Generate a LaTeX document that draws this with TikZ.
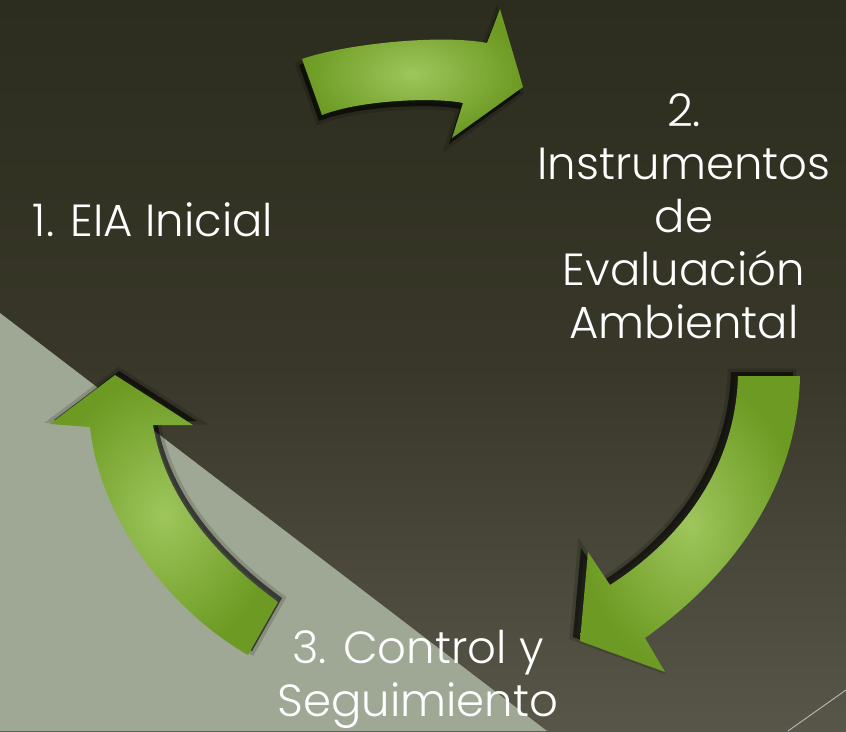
\documentclass[tikz,border=0pt]{standalone}
\usepackage{fontspec}
\setmainfont{Poppins}[UprightFont=* Light]
\definecolor{fondhaut}{RGB}{44,45,30}
\definecolor{fondmilieu}{RGB}{56,55,41}
\definecolor{fondbas}{RGB}{87,86,72}
\definecolor{gristriangle}{RGB}{159,167,149}
\definecolor{vertclair}{RGB}{158,198,92}
\definecolor{vertfonce}{RGB}{108,154,34}
\tikzstyle{etiquette}=[text=white,inner sep=0pt,align=center,font=\fontsize{45}{53}\selectfont]
\tikzstyle{fleche}=[inner color=vertclair,outer color=vertfonce]
\tikzset{ombre/.style 2 args={
  preaction={fill=black,fill opacity=.25,draw=black,draw opacity=.15,line width=7pt,transform canvas={xshift=#1,yshift=#2}},
  preaction={fill=black,fill opacity=.45,transform canvas={xshift=#1,yshift=#2}}}}

\begin{document}
\begin{tikzpicture}[x=1pt,y=-1pt]
\useasboundingbox (0,0) rectangle (846,731);

% fond
\fill[top color=fondhaut,bottom color=fondbas,middle color=fondmilieu] (0,0) rectangle (846,731);
\fill[gristriangle] (0,313) -- (547,731) -- (0,731) -- cycle;
\draw[gray!60,line width=1pt] (788,731) -- (846,690);

% fleches
\shade[fleche,ombre={-3pt}{-6pt}] (302,59) .. controls (345,44) and (440,34) .. (487,43)
  -- (500,9) -- (523,87) -- (452,138) -- (463,103)
  .. controls (435,97) and (360,100) .. (322,115) -- cycle;
\shade[fleche,ombre={-7pt}{4pt}] (738,376) -- (800,376)
  .. controls (798,480) and (740,570) .. (645,638)
  -- (665,672) -- (580,641) -- (588,552) -- (610,585)
  .. controls (680,540) and (735,470) .. (738,376) -- cycle;
\shade[fleche,ombre={4pt}{4pt}] (115,375) -- (193,425) -- (153,425)
  .. controls (165,500) and (220,560) .. (278,602) -- (248,655)
  .. controls (170,610) and (100,520) .. (90,427) -- (50,424) -- cycle;

% textes
\node[etiquette,anchor=base] (eia) at (153,236) {1. EIA Inicial};
\node[etiquette,anchor=north] (instr) at (684,93) {2.\\Instrumentos\\de\\Evaluación\\Ambiental};
\node[etiquette,anchor=north] (ctrl) at (418,630) {3. Control y\\Seguimiento};

\end{tikzpicture}
\end{document}
